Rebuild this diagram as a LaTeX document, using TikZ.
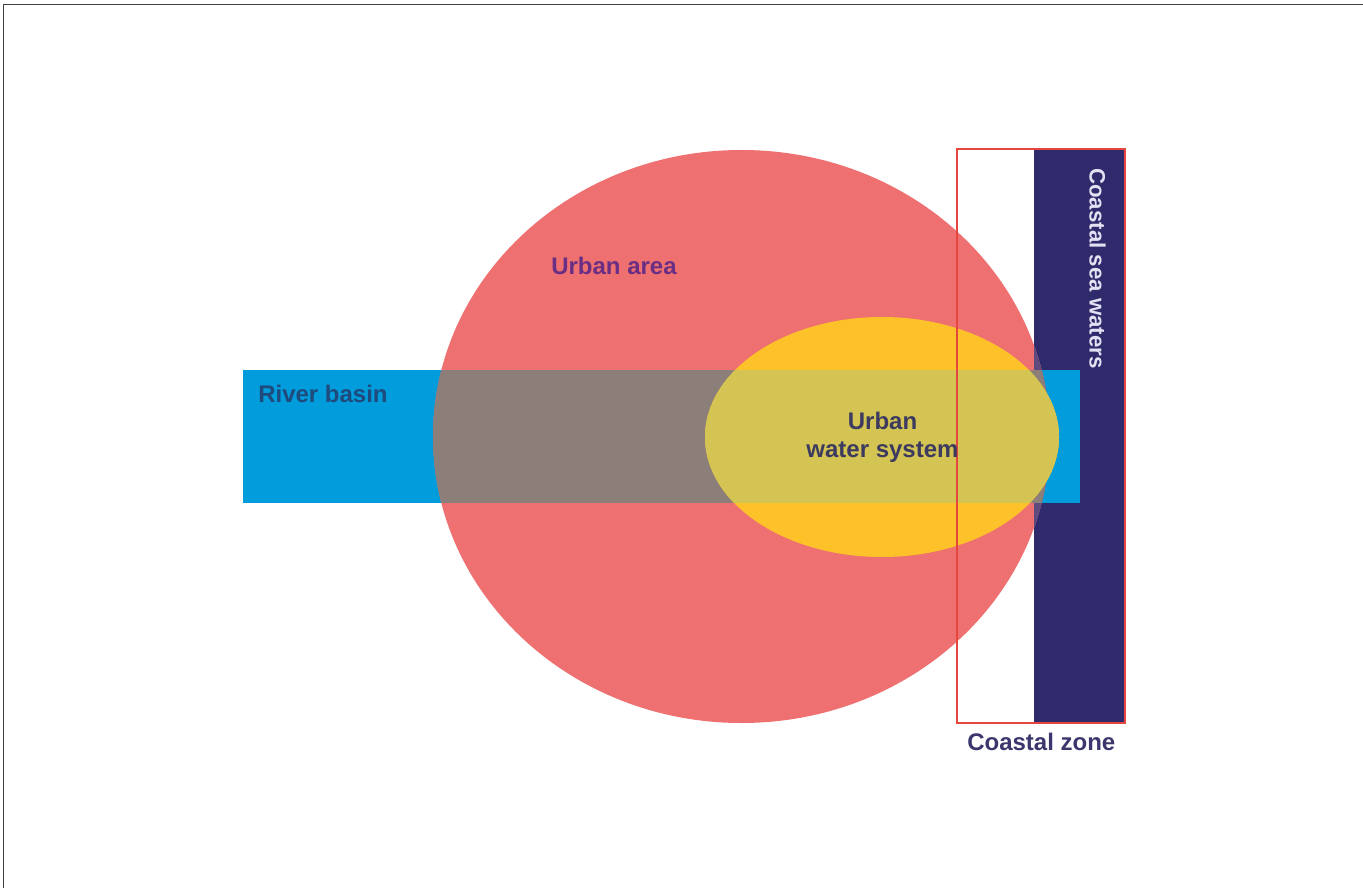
\documentclass[tikz,border=0pt]{standalone}
\usepackage{fontspec}
\setmainfont{Liberation Sans}
\definecolor{cred}{HTML}{EE7070}
\definecolor{cblue}{HTML}{009CDC}
\definecolor{cgrey}{HTML}{8C7F7A}
\definecolor{cyellow}{HTML}{FDC22A}
\definecolor{colive}{HTML}{D3C454}
\definecolor{cnavy}{HTML}{2E2A6B}
\definecolor{cmauve}{HTML}{5E4A7E}
\definecolor{czone}{HTML}{E5473F}
\definecolor{tpurple}{HTML}{6A2E84}
\definecolor{tblue}{HTML}{1F4A7C}
\definecolor{tdark}{HTML}{3C3A5E}
\definecolor{tnavy}{HTML}{3B376E}
\definecolor{tlight}{HTML}{E2E0F2}
\begin{document}
\begin{tikzpicture}[x=0.75pt,y=-0.75pt,
  lbl/.style={inner sep=0pt,font=\bfseries\fontsize{18}{21.75}\selectfont},
  frame/.style={draw=black!75,line width=1.4pt}]
\useasboundingbox (0,0) rectangle (1363,888);
\fill[white] (0,0) rectangle (1363,888);
\draw[frame] (3.5,888) -- (3.5,4.5) -- (1363,4.5);
% coastal sea waters
\fill[cnavy] (1034,149) rectangle (1125,723);
% river basin
\fill[cblue] (243,370) rectangle (1080,503);
% urban area
\fill[cred] (741.5,436.5) ellipse [x radius=308.5,y radius=286.5];
\begin{scope}
  \clip (741.5,436.5) ellipse [x radius=308.5,y radius=286.5];
  \fill[cmauve] (1034,149) rectangle (1125,723);
  \fill[cgrey] (243,370) rectangle (1080,503);
\end{scope}
% urban water system
\fill[cyellow] (882,437) ellipse [x radius=177,y radius=120];
\begin{scope}
  \clip (882,437) ellipse [x radius=177,y radius=120];
  \fill[colive] (243,370) rectangle (1080,503);
\end{scope}
% coastal zone outline
\draw[czone,line width=1.6pt] (957,149) rectangle (1125,723);
% labels
\node[lbl,text=tpurple,anchor=base west] (ua) at (551,274) {Urban area};
\node[lbl,text=tblue,anchor=base west] (rb) at (258,402) {River basin};
\node[lbl,text=tdark,anchor=base] (uws1) at (882.5,429) {Urban};
\node[lbl,text=tdark,anchor=base] (uws2) at (882.5,457) {water system};
\node[lbl,text=tnavy,anchor=base west] (cz) at (967,750) {Coastal zone};
\node[inner sep=0pt,font=\bfseries\fontsize{16.7}{20}\selectfont,text=tlight,rotate=-90,anchor=base] (csw) at (1089.5,268.5) {Coastal sea waters};
\end{tikzpicture}
\end{document}
